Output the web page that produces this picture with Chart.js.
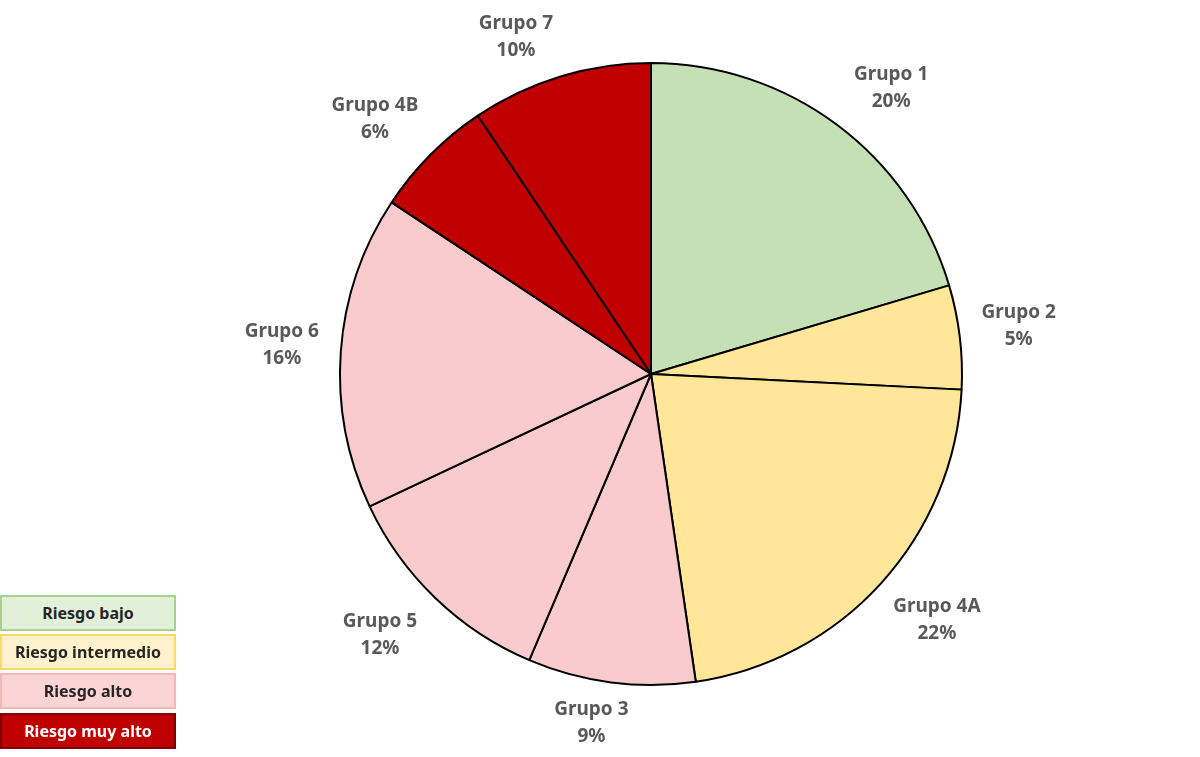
<!DOCTYPE html>
<html>
<head>
<meta charset="utf-8">
<script src="https://cdn.jsdelivr.net/npm/chart.js@4.4.1/dist/chart.umd.min.js"></script>
<style>
html,body{margin:0;padding:0;background:#fff;}
#wrap{position:relative;width:1200px;height:757px;}
canvas{position:absolute;left:0;top:0;}
.lg{position:absolute;left:0;width:176px;height:36px;box-sizing:border-box;border:2px solid;font:bold 16px "Noto Sans",sans-serif;color:#262626;display:flex;align-items:center;justify-content:center;}
</style>
</head>
<body>
<div id="wrap">
<canvas id="c" width="1200" height="757"></canvas>
</div>
<script>
const categories = ["Grupo 1","Grupo 2","Grupo 4A","Grupo 3","Grupo 5","Grupo 6","Grupo 4B","Grupo 7"];
const values = [20.4,5.4,21.9,8.7,11.6,16.3,6.3,9.4];
const percentLabels = ["20%","5%","22%","9%","12%","16%","6%","10%"];
const sliceColors = ["#c5e0b4","#ffe699","#ffe699","#f9cbcc","#f9cbcc","#f9cbcc","#c00000","#c00000"];
const legendLabels = ["Riesgo bajo","Riesgo intermedio","Riesgo alto","Riesgo muy alto"];
const legendFills = ["#e2f0d9","#fff2cc","#fbd5d5","#c00000"];
const legendBorders = ["#a9d18e","#ffd966","#f4b6b6","#7f0000"];
const legendText = ["#262626","#262626","#262626","#ffffff"];

const wrap = document.getElementById('wrap');
const legendTops = [595,634,673,713];
legendLabels.forEach((t,i)=>{
  const d = document.createElement('div');
  d.className='lg';
  d.style.top = legendTops[i]+'px';
  d.style.background = legendFills[i];
  d.style.borderColor = legendBorders[i];
  d.style.color = legendText[i];
  d.textContent = t;
  wrap.appendChild(d);
});

const labelPlugin = {
  id:'outLabels',
  afterDatasetsDraw(chart){
    const ctx = chart.ctx;
    const meta = chart.getDatasetMeta(0);
    ctx.save();
    ctx.font = 'bold 19px "Noto Sans", sans-serif';
    ctx.fillStyle = '#595959';
    ctx.textAlign = 'center';
    ctx.textBaseline = 'middle';
    meta.data.forEach((arc,i)=>{
      const mid = (arc.startAngle + arc.endAngle)/2;
      const c = Math.cos(mid), s = Math.sin(mid);
      const R = arc.outerRadius + 12;
      const hw = 47, hh = 28;
      const x = arc.x + R*c + hw*Math.sign(c)*Math.min(1, Math.abs(c)*3);
      const y = arc.y + R*s + hh*Math.sign(s)*Math.min(1, Math.abs(s)*3);
      ctx.fillText(categories[i], x, y-13);
      ctx.fillText(percentLabels[i], x, y+14);
    });
    ctx.restore();
  }
};

new Chart(document.getElementById('c'), {
  type:'pie',
  data:{
    labels:categories,
    datasets:[{
      data:values,
      backgroundColor:sliceColors,
      borderColor:'#000000',
      borderWidth:2,
      borderAlign:'center'
    }]
  },
  options:{
    responsive:false,
    animation:false,
    layout:{padding:{top:61,bottom:70,left:339,right:237}},
    plugins:{legend:{display:false},tooltip:{enabled:false}}
  },
  plugins:[labelPlugin]
});
</script>
</body>
</html>
